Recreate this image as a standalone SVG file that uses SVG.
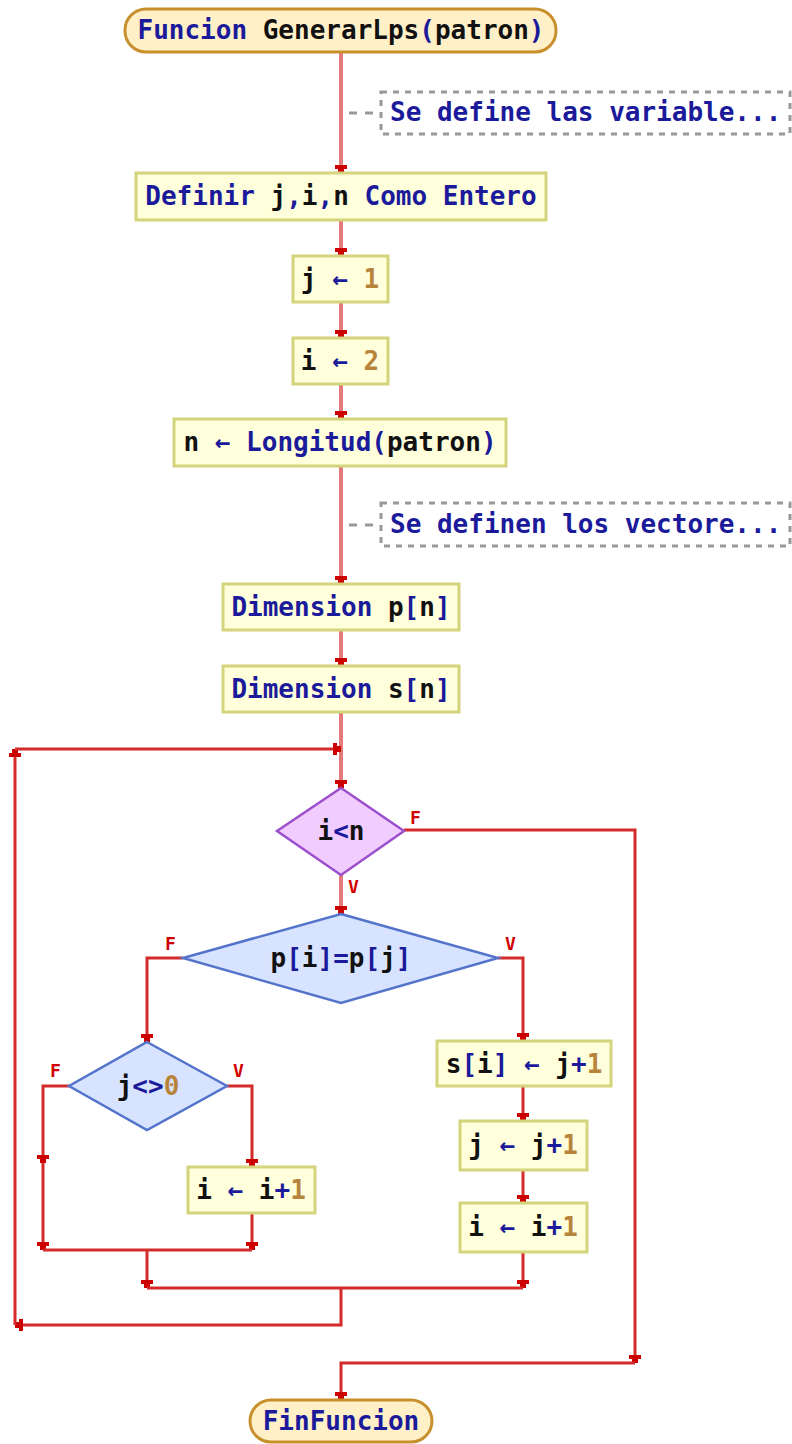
<svg xmlns="http://www.w3.org/2000/svg" width="792" height="1444" viewBox="0 0 792 1444">
  <style>
    .t { font-family: "DejaVu Sans Mono", "Liberation Mono", monospace; font-size: 26px; font-weight: bold; white-space: pre; fill: #111; }
    .k { fill: #1a1a9a; }
    .num { fill: #b8843c; }
    .lbl { font-family: "DejaVu Sans Mono", "Liberation Mono", monospace; font-size: 18px; font-weight: bold; fill: #d00000; }
    .term { fill: #fff0c8; stroke: #c8902c; stroke-width: 3; }
    .proc { fill: #ffffdc; stroke: #d4d47c; stroke-width: 3; }
    .dp { fill: #f0ccff; stroke: #9c50cc; stroke-width: 2.5; }
    .db { fill: #d8e4ff; stroke: #5474cc; stroke-width: 2.5; }
    .cbox { fill: none; stroke: #999; stroke-width: 3; stroke-dasharray: 6 6; }
    .cline { fill: none; stroke: #999; stroke-width: 3; stroke-dasharray: 8 8; }
    .trunk { fill: none; stroke: #e47a7a; stroke-width: 4; }
    .wire { fill: none; stroke: #d42a2a; stroke-width: 3; }
  </style>
  <defs>
    <marker id="ah" markerUnits="userSpaceOnUse" markerWidth="18" markerHeight="18" viewBox="-9 -9 18 18" refX="0" refY="0" orient="auto">
      <polygon points="-8,-6 -4,-6 -4,-3 0,-3 0,3 -4,3 -4,6 -8,6" fill="#cc0000"/>
    </marker>
  </defs>

  <!-- connectors -->
  <g id="connectors">
    <path class="trunk" d="M341,52 V173" marker-end="url(#ah)"/>
    <path class="trunk" d="M341,220 V256" marker-end="url(#ah)"/>
    <path class="trunk" d="M341,302 V338" marker-end="url(#ah)"/>
    <path class="trunk" d="M341,384 V419" marker-end="url(#ah)"/>
    <path class="trunk" d="M341,466 V584" marker-end="url(#ah)"/>
    <path class="trunk" d="M341,630 V666" marker-end="url(#ah)"/>
    <path class="trunk" d="M341,712 V788" marker-end="url(#ah)"/>
    <!-- comment links -->
    <path class="cline" d="M349,113 H381"/>
    <path class="cline" d="M349,525 H381"/>
    <!-- while: true branch -->
    <path class="trunk" d="M341,875 V914" marker-end="url(#ah)"/>
    <!-- while: false branch to end -->
    <path class="wire" d="M404,830 H635 V1363" marker-end="url(#ah)"/>
    <path class="wire" d="M635,1363 H341 V1400" marker-end="url(#ah)"/>
    <!-- if p[i]=p[j] -->
    <path class="wire" d="M183,958 H147 V1042" marker-end="url(#ah)"/>
    <path class="wire" d="M498,958 H523 V1041" marker-end="url(#ah)"/>
    <path class="wire" d="M523,1086 V1121" marker-end="url(#ah)"/>
    <path class="wire" d="M523,1170 V1203" marker-end="url(#ah)"/>
    <path class="wire" d="M523,1252 V1288" marker-end="url(#ah)"/>
    <!-- if j<>0 -->
    <path class="wire" d="M69,1086 H43 V1163" marker-end="url(#ah)"/>
    <path class="wire" d="M43,1163 V1250" marker-end="url(#ah)"/>
    <path class="wire" d="M227,1086 H252 V1167" marker-end="url(#ah)"/>
    <path class="wire" d="M252,1213 V1250" marker-end="url(#ah)"/>
    <path class="wire" d="M43,1250 H252"/>
    <path class="wire" d="M147,1250 V1288" marker-end="url(#ah)"/>
    <!-- merge and loop back -->
    <path class="wire" d="M147,1288 H523"/>
    <path class="wire" d="M341,1288 V1325 H15" marker-end="url(#ah)"/>
    <path class="wire" d="M15,1325 V749" marker-end="url(#ah)"/>
    <path class="wire" d="M15,749 H341" marker-end="url(#ah)"/>
  </g>

  <g id="start">
    <rect class="term" x="125" y="9" width="431" height="43" rx="21"/>
    <text class="t" x="341" y="39" text-anchor="middle"><tspan class="k">Funcion </tspan><tspan>GenerarLps</tspan><tspan class="k">(</tspan><tspan>patron</tspan><tspan class="k">)</tspan></text>
  </g>

  <g id="comment1">
    <rect class="cbox" x="381" y="92" width="409" height="42"/>
    <text class="t k" x="390" y="121">Se define las variable...</text>
  </g>

  <g id="definir">
    <rect class="proc" x="136" y="173" width="410" height="47"/>
    <text class="t" x="341" y="205" text-anchor="middle"><tspan class="k">Definir </tspan><tspan>j</tspan><tspan class="k">,</tspan><tspan>i</tspan><tspan class="k">,</tspan><tspan>n</tspan><tspan class="k"> Como Entero</tspan></text>
  </g>

  <g id="asig_j">
    <rect class="proc" x="293" y="256" width="95" height="46"/>
    <text class="t" x="340" y="288" text-anchor="middle"><tspan>j </tspan><tspan class="k">←</tspan><tspan> </tspan><tspan class="num">1</tspan></text>
  </g>

  <g id="asig_i">
    <rect class="proc" x="293" y="338" width="95" height="46"/>
    <text class="t" x="340" y="370" text-anchor="middle"><tspan>i </tspan><tspan class="k">←</tspan><tspan> </tspan><tspan class="num">2</tspan></text>
  </g>

  <g id="asig_n">
    <rect class="proc" x="174" y="419" width="332" height="47"/>
    <text class="t" x="340" y="451" text-anchor="middle"><tspan>n </tspan><tspan class="k">← Longitud(</tspan><tspan>patron</tspan><tspan class="k">)</tspan></text>
  </g>

  <g id="comment2">
    <rect class="cbox" x="381" y="503" width="409" height="43"/>
    <text class="t k" x="390" y="533">Se definen los vectore...</text>
  </g>

  <g id="dim_p">
    <rect class="proc" x="223" y="584" width="236" height="46"/>
    <text class="t" x="341" y="616" text-anchor="middle"><tspan class="k">Dimension </tspan><tspan>p</tspan><tspan class="k">[</tspan><tspan>n</tspan><tspan class="k">]</tspan></text>
  </g>

  <g id="dim_s">
    <rect class="proc" x="223" y="666" width="236" height="46"/>
    <text class="t" x="341" y="698" text-anchor="middle"><tspan class="k">Dimension </tspan><tspan>s</tspan><tspan class="k">[</tspan><tspan>n</tspan><tspan class="k">]</tspan></text>
  </g>

  <g id="cond_while">
    <polygon class="dp" points="341,788 404,831 341,875 277,831"/>
    <text class="t" x="341" y="840" text-anchor="middle"><tspan>i</tspan><tspan class="k">&lt;</tspan><tspan>n</tspan></text>
    <text class="lbl" x="410" y="824">F</text>
    <text class="lbl" x="348" y="893">V</text>
  </g>

  <g id="cond_eq">
    <polygon class="db" points="341,914 498,958 341,1003 183,958"/>
    <text class="t" x="341" y="967" text-anchor="middle"><tspan>p</tspan><tspan class="k">[</tspan><tspan>i</tspan><tspan class="k">]=</tspan><tspan>p</tspan><tspan class="k">[</tspan><tspan>j</tspan><tspan class="k">]</tspan></text>
    <text class="lbl" x="165" y="950">F</text>
    <text class="lbl" x="505" y="950">V</text>
  </g>

  <g id="cond_ne">
    <polygon class="db" points="147,1042 227,1086 147,1130 69,1086"/>
    <text class="t" x="148" y="1095" text-anchor="middle"><tspan>j</tspan><tspan class="k">&lt;&gt;</tspan><tspan class="num">0</tspan></text>
    <text class="lbl" x="50" y="1077">F</text>
    <text class="lbl" x="233" y="1077">V</text>
  </g>

  <g id="inc_i_left">
    <rect class="proc" x="188" y="1167" width="127" height="46"/>
    <text class="t" x="251" y="1199" text-anchor="middle"><tspan>i </tspan><tspan class="k">←</tspan><tspan> i</tspan><tspan class="k">+</tspan><tspan class="num">1</tspan></text>
  </g>

  <g id="asig_s">
    <rect class="proc" x="437" y="1041" width="174" height="45"/>
    <text class="t" x="524" y="1073" text-anchor="middle"><tspan>s</tspan><tspan class="k">[</tspan><tspan>i</tspan><tspan class="k">]</tspan><tspan> </tspan><tspan class="k">←</tspan><tspan> j</tspan><tspan class="k">+</tspan><tspan class="num">1</tspan></text>
  </g>

  <g id="inc_j">
    <rect class="proc" x="460" y="1121" width="127" height="49"/>
    <text class="t" x="523" y="1154" text-anchor="middle"><tspan>j </tspan><tspan class="k">←</tspan><tspan> j</tspan><tspan class="k">+</tspan><tspan class="num">1</tspan></text>
  </g>

  <g id="inc_i_right">
    <rect class="proc" x="460" y="1203" width="127" height="49"/>
    <text class="t" x="523" y="1236" text-anchor="middle"><tspan>i </tspan><tspan class="k">←</tspan><tspan> i</tspan><tspan class="k">+</tspan><tspan class="num">1</tspan></text>
  </g>

  <g id="end">
    <rect class="term" x="250" y="1400" width="182" height="42" rx="21"/>
    <text class="t k" x="341" y="1430" text-anchor="middle">FinFuncion</text>
  </g>
</svg>
